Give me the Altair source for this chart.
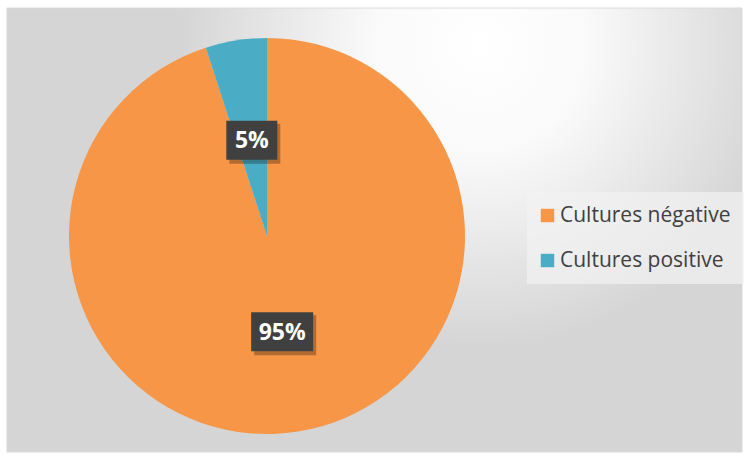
import math
import altair as alt
import pandas as pd

# ---- data ----
categories = ["Cultures négative", "Cultures positive"]
values = [95, 5]
labels = ["95%", "5%"]
colors = ["#F79646", "#4BACC6"]

# ---- layout constants ----
W, H = 745, 462
CX, CY, R = 267, 236, 198
LABEL_R = 97

total = sum(values)
rows = []
cum = 0
for i, (c, v, lab) in enumerate(zip(categories, values, labels)):
    start = cum / total * 2 * math.pi
    cum += v
    end = cum / total * 2 * math.pi
    mid = (start + end) / 2
    lx = CX + LABEL_R * math.sin(mid)
    ly = CY - LABEL_R * math.cos(mid)
    bw = 11 * (len(lab) - 1) + 21 + 19
    bh = 39
    rows.append(dict(cat=c, val=v, label=lab, order=i, lx=lx, ly=ly,
                     bx1=lx - bw / 2, bx2=lx + bw / 2,
                     by1=ly - bh / 2, by2=ly + bh / 2))
df = pd.DataFrame(rows)

bg_df = pd.DataFrame({"k": [0]})

gradient = alt.RadialGradient(
    gradient="radial",
    stops=[
        alt.GradientStop(color="#ffffff", offset=0),
        alt.GradientStop(color="#fafafa", offset=0.35),
        alt.GradientStop(color="#d5d5d5", offset=1),
    ],
    x1=0.644, y1=0.25, r1=0,
    x2=0.644, y2=0.25, r2=0.41,
)

background = alt.Chart(bg_df).mark_rect(
    fill=gradient, stroke="#d9d9d9", strokeWidth=1
).encode(
    x=alt.value(7), x2=alt.value(742), y=alt.value(8), y2=alt.value(452)
)

pie = alt.Chart(df).mark_arc(radius=R, stroke=None).encode(
    theta=alt.Theta("val:Q", stack=True),
    order=alt.Order("order:Q"),
    color=alt.Color(
        "cat:N",
        scale=alt.Scale(domain=categories, range=colors),
        legend=alt.Legend(
            orient="none", legendX=527, legendY=192, title=None,
            fillColor="rgba(242,242,242,0.7)", padding=13,
            symbolType="square", symbolSize=180, symbolStrokeWidth=0,
            symbolOffset=-3,
            labelFontSize=21, labelFont="Open Sans", labelColor="#404040",
            labelLimit=400,
            rowPadding=23, labelOffset=2, symbolOpacity=1,
        ),
    ),
    x=alt.value(CX), y=alt.value(CY),
)

shadow = alt.Chart(df).mark_rect(fill="#000000", opacity=0.28).encode(
    x=alt.X("sx1:Q", scale=None, axis=None), x2="sx2:Q",
    y=alt.Y("sy1:Q", scale=None, axis=None), y2="sy2:Q",
).transform_calculate(
    sx1="datum.bx1 + 3", sx2="datum.bx2 + 3",
    sy1="datum.by1 + 3", sy2="datum.by2 + 4",
)

boxes = alt.Chart(df).mark_rect(fill="#404040").encode(
    x=alt.X("bx1:Q", scale=None, axis=None), x2="bx2:Q",
    y=alt.Y("by1:Q", scale=None, axis=None), y2="by2:Q",
)

texts = alt.Chart(df).mark_text(
    font="Open Sans", fontWeight="bold", fontSize=23, color="#ffffff",
    align="center", baseline="middle", dy=1,
).encode(
    x=alt.X("lx:Q", scale=None, axis=None),
    y=alt.Y("ly:Q", scale=None, axis=None),
    text="label:N",
)

chart = alt.layer(background, pie, shadow, boxes, texts).properties(
    width=W, height=H, padding=0, autosize=alt.AutoSizeParams(type="none"),
    background="#ffffff",
).configure_view(stroke=None)

chart.save("out.html", embed_options={"renderer": "svg", "actions": False})
